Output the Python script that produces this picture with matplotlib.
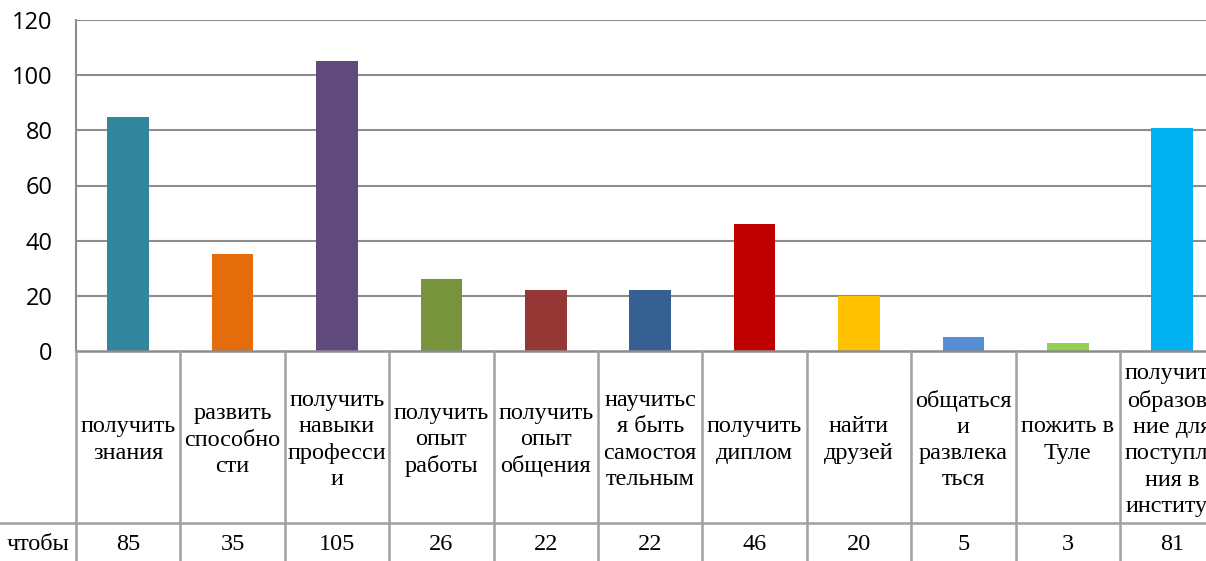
import matplotlib
matplotlib.use("Agg")
import matplotlib.pyplot as plt

categories = [
    "получить\nзнания",
    "развить\nспособно\nсти",
    "получить\nнавыки\nпрофесси\nи",
    "получить\nопыт\nработы",
    "получить\nопыт\nобщения",
    "научитьс\nя быть\nсамостоя\nтельным",
    "получить\nдиплом",
    "найти\nдрузей",
    "общаться\nи\nразвлека\nться",
    "пожить в\nТуле",
    "получить\nобразова\nние для\nпоступле\nния в\nинститут",
]
values = [85, 35, 105, 26, 22, 22, 46, 20, 5, 3, 81]
series_name = "чтобы"
colors = ["#31859C", "#E46C0A", "#604A7B", "#77933C", "#953735", "#376092",
          "#C00000", "#FFC000", "#558ED5", "#92D050", "#00B0F0"]
yticks = [0, 20, 40, 60, 80, 100, 120]

W, H = 1206, 561
fig = plt.figure(figsize=(W / 100, H / 100), dpi=100)
fig.patch.set_facecolor("white")

n = len(categories)
colw = 104.4
left = 76
x0 = 351  # pixel y of zero line
ytop = 20
ax = fig.add_axes([left / W, (H - x0) / H, n * colw / W, (x0 - ytop) / H])
ax.bar(range(n), values, width=0.4, color=colors, zorder=3)
ax.set_xlim(-0.5, n - 0.5)
ax.set_ylim(0, 120)
ax.set_yticks(yticks)
ax.set_xticks([])
grid_c = "#8C8C8C"
for t in yticks[1:]:
    ax.axhline(t, color=grid_c, lw=1.5, zorder=1)
for s in ["top", "right", "bottom"]:
    ax.spines[s].set_visible(False)
ax.spines["left"].set_color(grid_c)
ax.spines["left"].set_linewidth(1.5)
ax.tick_params(axis="y", length=0, pad=17, labelsize=17)
for lab in ax.get_yticklabels():
    lab.set_fontfamily("Open Sans")

# table axes (pixel-based y)
tax = fig.add_axes([left / W, 0, n * colw / W, (H - x0) / H])
tax.set_xlim(-0.5, n - 0.5)
tax.set_ylim(0, H - x0)
tax.axis("off")
row_y = H - 523  # boundary between category row and value row
line_c = "#A0A0A0"
lw = 1.8
left_units = left / colw
tax.plot([-0.5, n - 0.5], [H - x0, H - x0], color=grid_c, lw=lw, clip_on=False)
tax.plot([-0.5 - left_units, n - 0.5], [row_y, row_y], color=line_c, lw=lw, clip_on=False)
for i in range(n + 1):
    tax.plot([i - 0.5, i - 0.5], [0, H - x0], color=line_c, lw=lw, clip_on=False)

serif = "Liberation Serif"
fs = 17.5
cat_mid = H - 440
val_y = H - 545
for i, (c, v) in enumerate(zip(categories, values)):
    tax.text(i, cat_mid, c, ha="center", va="center", fontsize=fs,
             family=serif, linespacing=1.33, clip_on=False)
    tax.text(i, val_y, str(v), ha="center", va="center", fontsize=fs,
             family=serif, clip_on=False)
tax.text(-0.5 - left_units / 2, val_y, series_name, ha="center", va="center",
         fontsize=fs, family=serif, clip_on=False)

fig.savefig("out.png", dpi=100, facecolor="white")
